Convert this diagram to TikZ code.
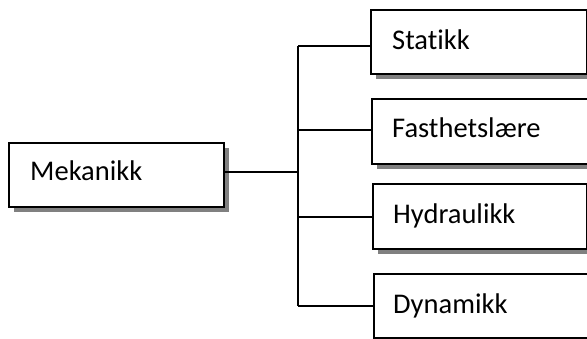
\documentclass[tikz,border=0pt]{standalone}
\usepackage{fontspec}
\setmainfont[Ligatures={NoCommon}]{Carlito}
\usetikzlibrary{shadows}
\begin{document}
\begin{tikzpicture}[x=1pt,y=-1pt,
  box/.style={draw=black, line width=1.8pt, fill=white, rectangle, anchor=north west, inner sep=0pt,
    drop shadow={shadow xshift=5pt, shadow yshift=-5pt, fill=black!50, opacity=1}},
  txt/.style={anchor=base west, inner sep=0pt, font=\fontsize{28.5}{34}\selectfont},
  conn/.style={draw=black, line width=1.5pt}]
\useasboundingbox (0,0) rectangle (587,338);
% boxes
\node[box, minimum width=215pt, minimum height=64pt] (mek) at (8,142) {};
\node[box, minimum width=216pt, minimum height=64pt] (stat) at (370,9) {};
\node[box, minimum width=216pt, minimum height=65pt] (fast) at (371,98) {};
\node[box, minimum width=214pt, minimum height=65pt] (hyd) at (372,183) {};
\node[box, minimum width=216pt, minimum height=64pt] (dyn) at (373,273) {};
% labels
\node[txt] (tmek) at (30,180) {Mekanikk};
\node[txt] (tstat) at (392,49) {Statikk};
\node[txt] (tfast) at (392,137) {Fasthetslære};
\node[txt] (thyd) at (393,223) {Hydraulikk};
\node[txt] (tdyn) at (393,313) {Dynamikk};
% junctions
\coordinate (jm) at (298,172);
\coordinate (j1) at (298,46);
\coordinate (j2) at (298,130);
\coordinate (j3) at (298,217);
\coordinate (j4) at (298,306);
% connectors
\draw[conn] (mek.east |- jm) -- (jm);
\draw[conn] (j1) -- (j4);
\draw[conn] (j1) -- (j1 -| stat.west);
\draw[conn] (j2) -- (j2 -| fast.west);
\draw[conn] (j3) -- (j3 -| hyd.west);
\draw[conn] (j4) -- (j4 -| dyn.west);
\end{tikzpicture}
\end{document}
